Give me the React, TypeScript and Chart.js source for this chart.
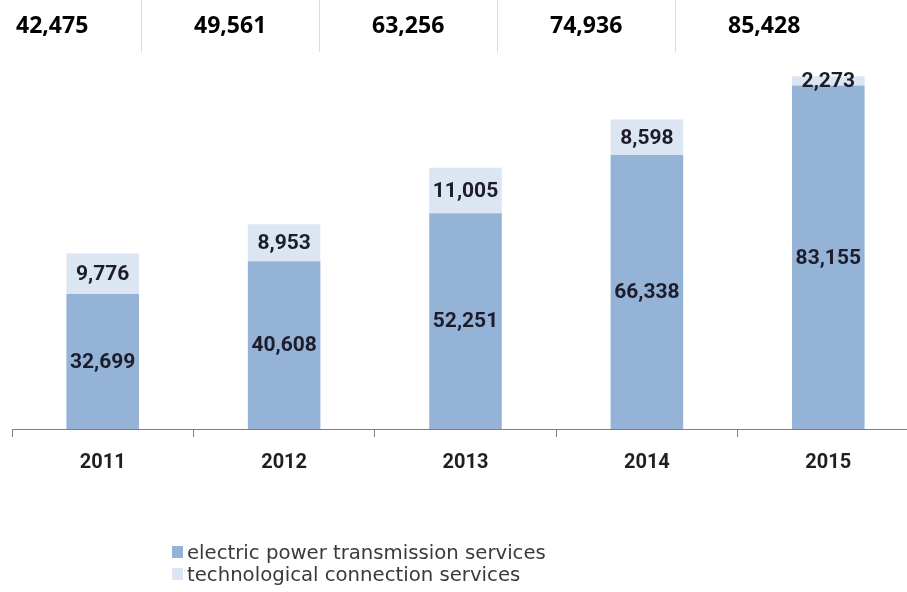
import React, { useEffect, useRef } from "react";
import { Chart, registerables } from "chart.js";

Chart.register(...registerables);

const categories = ["2011", "2012", "2013", "2014", "2015"];
const transmission = [32699, 40608, 52251, 66338, 83155];
const connection = [9776, 8953, 11005, 8598, 2273];
const totals = [42475, 49561, 63256, 74936, 85428];
const seriesNames = [
  "electric power transmission services",
  "technological connection services",
];
const seriesColors = ["#95b3d7", "#dce6f2"];

const fmt = (v: number) => v.toLocaleString("en-US");

const segmentLabels = {
  id: "segmentLabels",
  afterDatasetsDraw(chart: any) {
    const ctx = chart.ctx;
    ctx.save();
    ctx.font = "bold 21px Roboto";
    ctx.fillStyle = "#1c1c2a";
    ctx.textAlign = "center";
    ctx.textBaseline = "middle";
    chart.data.datasets.forEach((ds: any, di: number) => {
      const meta = chart.getDatasetMeta(di);
      meta.data.forEach((el: any, i: number) => {
        const p = el.getProps(["x", "y", "base"], true);
        ctx.fillText(fmt(ds.data[i]), p.x, (p.y + p.base) / 2 + 1);
      });
    });
    ctx.restore();
  },
};

export default function App() {
  const canvasRef = useRef<HTMLCanvasElement | null>(null);

  useEffect(() => {
    document.documentElement.style.overflow = "hidden";
    document.body.style.overflow = "hidden";
    const chart = new Chart(canvasRef.current as HTMLCanvasElement, {
      type: "bar",
      data: {
        labels: categories,
        datasets: [
          {
            label: seriesNames[0],
            data: transmission,
            backgroundColor: seriesColors[0],
            borderWidth: 0,
            barPercentage: 1,
            categoryPercentage: 0.4,
          },
          {
            label: seriesNames[1],
            data: connection,
            backgroundColor: seriesColors[1],
            borderWidth: 0,
            barPercentage: 1,
            categoryPercentage: 0.4,
          },
        ],
      },
      options: {
        animation: false,
        responsive: true,
        maintainAspectRatio: false,
        layout: { padding: { left: 12, right: 11, top: 16, bottom: 103 } },
        plugins: {
          legend: { display: false },
          tooltip: { enabled: false },
        },
        scales: {
          x: {
            stacked: true,
            afterFit: (s: any) => {
              s.height = 60;
            },
            grid: {
              display: true,
              drawOnChartArea: false,
              drawTicks: true,
              tickLength: 8,
              color: "#7f7f7f",
              lineWidth: 1,
            },
            border: { display: true, color: "#7f7f7f", width: 1 },
            ticks: {
              padding: 14,
              color: "#1f1f1f",
              font: { family: "Roboto", size: 20, weight: "bold" },
            },
          },
          y: {
            stacked: true,
            display: false,
            min: 0,
            max: 100000,
          },
        },
      },
      plugins: [segmentLabels],
    });
    return () => chart.destroy();
  }, []);

  return (
    <div
      style={{
        position: "fixed",
        left: 0,
        top: 0,
        width: 907,
        height: 592,
        overflow: "hidden",
        background: "#ffffff",
      }}
    >
      <div style={{ position: "absolute", left: 0, top: 0, width: 930, height: 592 }}>
        <canvas ref={canvasRef} />
      </div>
      <div style={{ position: "absolute", left: -36, top: 0, display: "flex" }}>
        {totals.map((t, i) => (
          <div
            key={i}
            style={{
              width: 178,
              height: 52,
              boxSizing: "border-box",
              paddingLeft: 52,
              borderRight: i < totals.length - 1 ? "1px solid #dcdcdc" : "none",
              fontFamily: "'Open Sans', sans-serif",
              fontWeight: "bold",
              fontSize: 23,
              lineHeight: "48px",
              color: "#000",
            }}
          >
            {fmt(t)}
          </div>
        ))}
      </div>
      <div style={{ position: "absolute", left: 172, top: 541 }}>
        {seriesNames.map((n, i) => (
          <div
            key={i}
            style={{
              display: "flex",
              alignItems: "center",
              height: 22,
              fontFamily: "'DejaVu Sans', sans-serif",
              fontSize: 19.7,
              color: "#3a3a3a",
              whiteSpace: "nowrap",
            }}
          >
            <span
              style={{
                display: "inline-block",
                width: 11,
                height: 12,
                background: seriesColors[i],
                marginRight: 4,
              }}
            />
            {n}
          </div>
        ))}
      </div>
    </div>
  );
}
